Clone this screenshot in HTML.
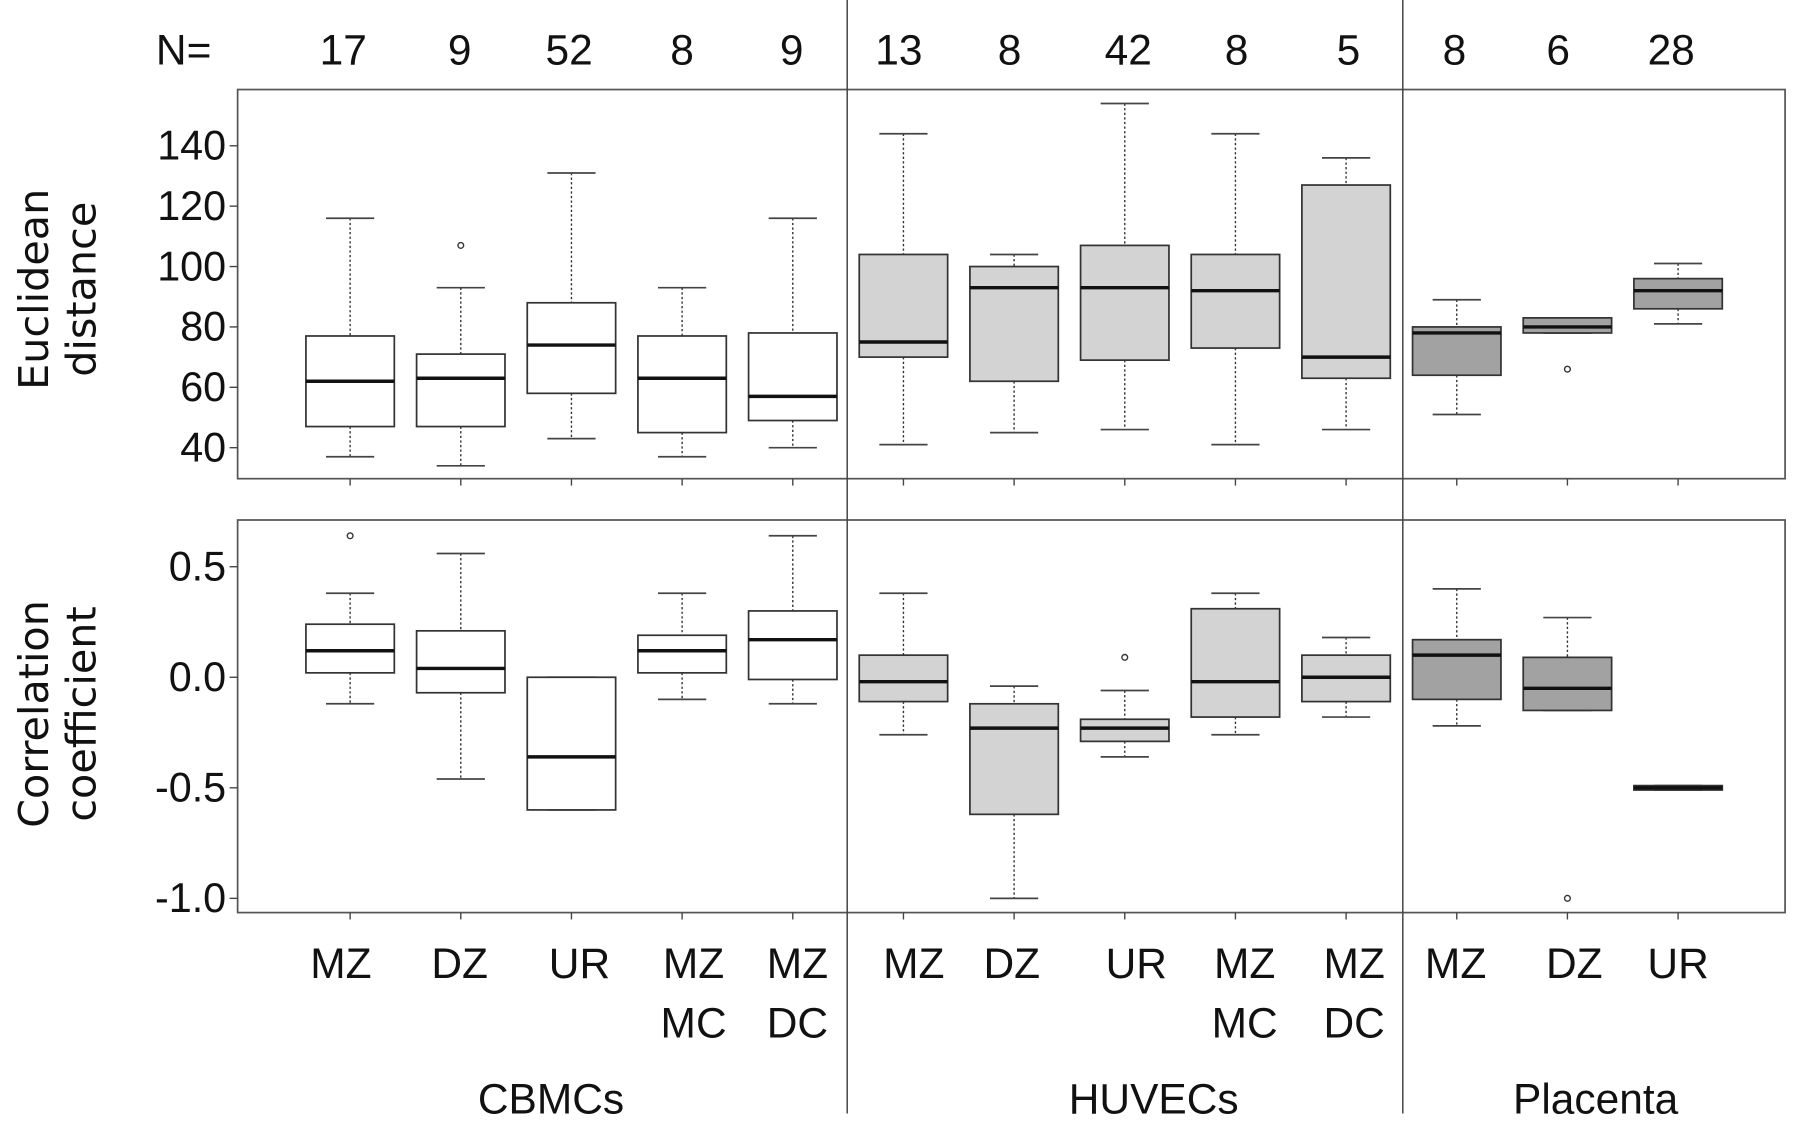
<!DOCTYPE html>
<html><head><meta charset="utf-8"><style>
html,body{margin:0;padding:0;background:#fff}
svg{display:block}
text{font-family:"Liberation Sans Narrow","Liberation Sans",sans-serif;fill:#111}
</style></head><body>
<svg id="chart" width="1800" height="1123" viewBox="0 0 1568 978.3" preserveAspectRatio="none" xmlns="http://www.w3.org/2000/svg"></svg>
<script>
const categories = ["MZ","DZ","UR","MZ\nMC","MZ\nDC","MZ","DZ","UR","MZ\nMC","MZ\nDC","MZ","DZ","UR"];
const nCounts = [17,9,52,8,9,13,8,42,8,5,8,6,28];
const groups = ["CBMCs","HUVECs","Placenta"];
const groupOf = [0,0,0,0,0,1,1,1,1,1,2,2,2];
// [low whisker, q1, median, q3, high whisker]
const euclidStats = [[37,47,62,77,116],[34,47,63,71,93],[43,58,74,88,131],[37,45,63,77,93],[40,49,57,78,116],
 [41,70,75,104,144],[45,62,93,100,104],[46,69,93,107,154],[41,73,92,104,144],[46,63,70,127,136],
 [51,64,78,80,89],[78,78,80,83,83],[81,86,92,96,101]];
const euclidOutliers = [[],[107],[],[],[],[],[],[],[],[],[],[66],[]];
const corrStats = [[-0.12,0.02,0.12,0.24,0.38],[-0.46,-0.07,0.04,0.21,0.56],[-0.6,-0.6,-0.36,0,0],[-0.1,0.02,0.12,0.19,0.38],[-0.12,-0.01,0.17,0.30,0.64],
 [-0.26,-0.11,-0.02,0.10,0.38],[-1.0,-0.62,-0.23,-0.12,-0.04],[-0.36,-0.29,-0.23,-0.19,-0.06],[-0.26,-0.18,-0.02,0.31,0.38],[-0.18,-0.11,0.0,0.10,0.18],
 [-0.22,-0.1,0.1,0.17,0.40],[-0.15,-0.15,-0.05,0.09,0.27],[-0.51,-0.51,-0.50,-0.49,-0.49]];
const corrOutliers = [[0.64],[],[],[],[],[],[],[0.09],[],[],[],[-1.0],[]];
const euclidTicks = [40,60,80,100,120,140];
const corrTicks = [-1.0,-0.5,0.0,0.5];
const corrTickLabels = ["-1.0","-0.5","0.0","0.5"];

const svg = document.getElementById('chart');
const NS = "http://www.w3.org/2000/svg";
function el(tag, attrs, parent){const e=document.createElementNS(NS,tag);for(const k in attrs)e.setAttribute(k,attrs[k]);(parent||svg).appendChild(e);return e;}
const fills = ["#ffffff","#d3d3d3","#a2a2a2"];
function xOf(i){return 305 + i*96.4;}
const labelShift = [-8,-1,7,10,4,9,-2,10,8,7,-1,6,0];
const nShift = [-6,-1,-2,0,-1,-4,-4,3,1,2,-2,-8,-6];
const plotL=207, plotR=1555;
function yE(v){return 390 + (40 - v) * (263/100);}
function yC(v){return 590 - v * (96.3/0.5);}
const bw=77;

function panel(name, top, bottom, stats, outs, yf, ticks, tickLabels){
  const g=el('g',{});
  
  
  const fr=el('rect',{x:plotL,y:top,width:plotR-plotL,height:bottom-top,fill:'none',stroke:'#555','stroke-width':1.5},g);
  
  
  ticks.forEach((t,i)=>{
    const y=yf(t);
    el('line',{x1:plotL-7,x2:plotL,y1:y,y2:y,stroke:'#444','stroke-width':1.2},g);
    const tx=el('text',{x:plotL-10,y:y+12,'text-anchor':'end','font-size':36},g);
    tx.textContent=tickLabels[i];
    
    
  });
  stats.forEach((s,i)=>{
    const x=xOf(i);
    el('line',{x1:x,x2:x,y1:bottom,y2:bottom+6,stroke:'#444','stroke-width':1.2},g);
    const b=el('g',{},g);
    
    
    const [lo,q1,md,q3,hi]=s.map(yf);
    el('line',{x1:x,x2:x,y1:hi,y2:q3,stroke:'#333','stroke-width':1.2,'stroke-dasharray':'2,2'},b);
    el('line',{x1:x,x2:x,y1:q1,y2:lo,stroke:'#333','stroke-width':1.2,'stroke-dasharray':'2,2'},b);
    el('line',{x1:x-21,x2:x+21,y1:hi,y2:hi,stroke:'#444','stroke-width':1.5},b);
    el('line',{x1:x-21,x2:x+21,y1:lo,y2:lo,stroke:'#444','stroke-width':1.5},b);
    el('rect',{x:x-bw/2,y:q3,width:bw,height:Math.max(q1-q3,2),fill:fills[groupOf[i]],stroke:'#333','stroke-width':1.5},b);
    el('line',{x1:x-bw/2,x2:x+bw/2,y1:md,y2:md,stroke:'#111','stroke-width':3},b);
    outs[i].forEach(o=>{
      const c=el('circle',{cx:x,cy:yf(o),r:2.5,fill:'none',stroke:'#333','stroke-width':1.2},b);
      
      
    });
  });
}
panel('euclidean-panel',78,417,euclidStats,euclidOutliers,yE,euclidTicks,euclidTicks.map(String));
panel('correlation-panel',453,795,corrStats,corrOutliers,yC,corrTicks,corrTickLabels);

[738,1222].forEach(x=>{
  const l=el('line',{x1:x,x2:x,y1:0,y2:970,stroke:'#444','stroke-width':1.3});
  
  
});

const nl=el('text',{x:160,y:56,'text-anchor':'middle','font-size':37});
nl.textContent='N=';


nCounts.forEach((n,i)=>{
  const t=el('text',{x:xOf(i)+nShift[i],y:56,'text-anchor':'middle','font-size':37});
  t.textContent=n;
  
  
});
categories.forEach((c,i)=>{
  c.split('\n').forEach((ln,j)=>{
    const t=el('text',{x:xOf(i)+labelShift[i],y:852+j*52,'text-anchor':'middle','font-size':37});
    t.textContent=ln;
    
    
  });
});
[[480,'CBMCs'],[1005,'HUVECs'],[1390,'Placenta']].forEach(([x,s])=>{
  const t=el('text',{x:x,y:970,'text-anchor':'middle','font-size':37});
  t.textContent=s;
  
  
});
function ytitle(lines,cy,name){
  const g=el('g',{transform:'translate(0,'+cy+') rotate(-90)'});
  
  
  lines.forEach((ln,j)=>{
    const t=el('text',{x:0,y:42+j*41,'text-anchor':'middle','font-size':36,style:'font-family:"DejaVu Sans",sans-serif'},g);
    t.textContent=ln;
  });
}
ytitle(['Euclidean','distance'],252,'y-axis-title-euclidean');
ytitle(['Correlation','coefficient'],622,'y-axis-title-correlation');
</script>
</body></html>
